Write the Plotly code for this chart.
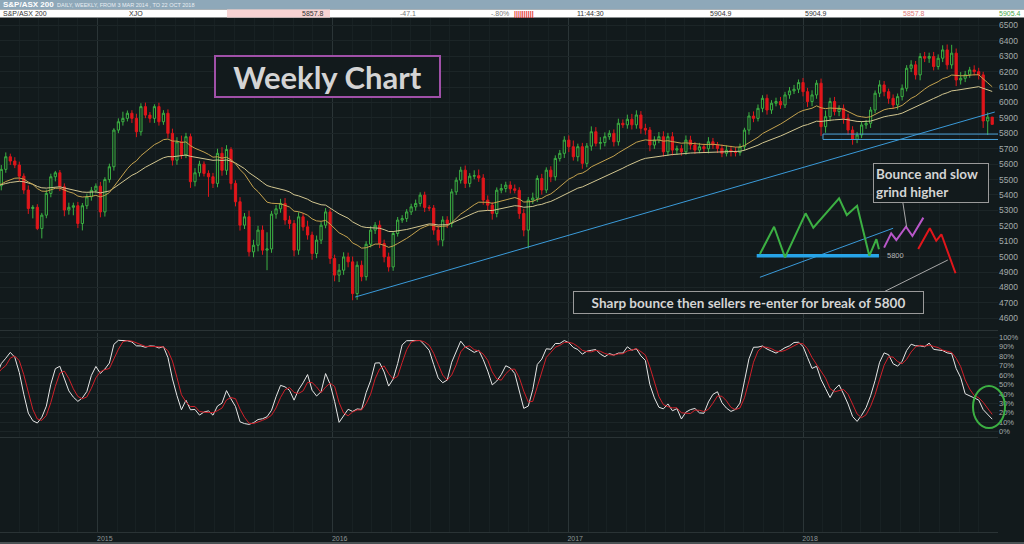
import numpy as np
import pandas as pd
import plotly.graph_objects as go
from plotly.subplots import make_subplots

W, H = 1024, 544
M_L, M_R, M_T, M_B = 0, 26, 18, 12
BG = "#121a1c"

# === weekly S&P/ASX 200 closes (from w/c 28 Jul 2014) ===
closes = [
    5460, 5566, 5648, 5620, 5594, 5522, 5432, 5312, 5320, 5182,
    5269, 5410, 5518, 5544, 5453, 5302, 5320, 5330, 5215, 5330,
    5388, 5430, 5457, 5290, 5500, 5583, 5821, 5875, 5897, 5930,
    5897, 5810, 5973, 5918, 5897, 5973, 5875, 5930, 5800, 5626,
    5745, 5659, 5778, 5486, 5544, 5600, 5540, 5518, 5475, 5670,
    5560, 5695, 5475, 5356, 5204, 5258, 5031, 5074, 5172, 5042,
    5050, 5276, 5310, 5345, 5237, 5215, 5042, 5258, 5193, 5140,
    5020, 5107, 5204, 5290, 4988, 4880, 4912, 4998, 4966, 4760,
    4944, 4870, 5080, 5172, 5204, 5085, 4998, 4933, 5150, 5237,
    5247, 5290, 5323, 5345, 5399, 5319, 5315, 5172, 5107, 5237,
    5215, 5420, 5496, 5561, 5475, 5522, 5525, 5510, 5367, 5334,
    5280, 5431, 5442, 5464, 5440, 5430, 5280, 5172, 5367, 5380,
    5507, 5432, 5561, 5518, 5637, 5670, 5756, 5713, 5648, 5713,
    5605, 5717, 5810, 5735, 5740, 5778, 5800, 5745, 5865, 5855,
    5891, 5855, 5919, 5832, 5821, 5724, 5756, 5778, 5680, 5778,
    5691, 5700, 5680, 5756, 5724, 5691, 5713, 5700, 5745, 5724,
    5702, 5670, 5691, 5680, 5675, 5713, 5821, 5912, 5897, 5962,
    6027, 5951, 5995, 6006, 5984, 6049, 6075, 6086, 6129, 6070,
    6006, 6049, 6125, 5843, 5908, 6006, 5941, 5962, 5897, 5821,
    5761, 5789, 5854, 5865, 5951, 6060, 6114, 6070, 6027, 5984,
    6038, 6092, 6222, 6244, 6179, 6298, 6287, 6298, 6233, 6287,
    6341, 6244, 6320, 6146, 6157, 6180, 6211, 6200, 6179, 5880,
    5905, 5858,
]
first_open = 5440

# upper / lower shadow lengths (points), estimated from the candles
wick_up = [
    30, 28, 28, 20, 25, 22, 18, 30, 14, 20, 15, 25, 20, 12, 18, 22, 30, 20, 25, 18,
    20, 22, 18, 28, 15, 20, 12, 22, 43, 18, 20, 30, 22, 26, 20, 15, 25, 20, 25, 30,
    30, 40, 25, 20, 30, 22, 18, 20, 25, 30, 40, 28, 15, 20, 30, 25, 40, 35, 28, 30,
    108, 20, 25, 30, 35, 28, 22, 30, 25, 40, 22, 30, 20, 25, 18, 25, 40, 30, 28, 35,
    25, 30, 20, 25, 20, 30, 25, 28, 15, 20, 22, 18, 20, 25, 18, 22, 15, 20, 30, 25,
    25, 20, 18, 22, 30, 20, 35, 40, 25, 30, 20, 18, 30, 22, 25, 28, 20, 30, 20, 35,
    20, 30, 18, 25, 20, 22, 25, 30, 40, 20, 25, 20, 35, 30, 35, 28, 20, 25, 30, 25,
    30, 35, 30, 25, 30, 20, 25, 30, 35, 25, 30, 20, 25, 30, 28, 20, 25, 20, 30, 25,
    20, 25, 30, 28, 30, 20, 15, 25, 30, 25, 20, 25, 20, 25, 30, 20, 25, 28, 20, 30,
    25, 30, 20, 30, 40, 25, 30, 20, 25, 30, 25, 20, 25, 22, 20, 18, 30, 25, 20, 25,
    20, 25, 20, 30, 25, 22, 30, 25, 30, 25, 30, 35, 54, 30, 40, 25, 20, 30, 25, 20,
    30, 0,
]
wick_dn = [
    25, 30, 22, 25, 20, 30, 25, 35, 64, 10, 64, 20, 25, 30, 28, 40, 30, 52, 30, 45,
    22, 25, 20, 35, 30, 20, 25, 20, 25, 20, 30, 35, 25, 20, 28, 30, 25, 20, 30, 35,
    30, 25, 20, 40, 30, 25, 20, 130, 30, 25, 35, 30, 40, 30, 35, 25, 30, 35, 40, 30,
    130, 25, 30, 25, 30, 35, 40, 30, 25, 30, 40, 30, 25, 20, 35, 40, 45, 30, 35, 43,
    40, 30, 25, 20, 25, 30, 35, 30, 25, 20, 18, 22, 20, 25, 20, 30, 20, 30, 35, 40,
    30, 25, 20, 22, 30, 25, 20, 25, 30, 35, 40, 25, 20, 25, 30, 20, 35, 40, 119, 25,
    25, 30, 20, 35, 25, 20, 30, 35, 25, 30, 35, 25, 30, 20, 40, 25, 20, 30, 25, 20,
    25, 30, 25, 35, 30, 40, 25, 20, 30, 25, 35, 30, 25, 20, 30, 25, 20, 25, 30, 25,
    30, 25, 20, 30, 25, 20, 25, 30, 25, 20, 25, 30, 25, 20, 25, 20, 25, 20, 25, 30,
    35, 30, 25, 60, 40, 30, 25, 30, 35, 30, 35, 25, 20, 25, 30, 20, 25, 30, 35, 25,
    30, 25, 20, 25, 30, 35, 25, 30, 25, 20, 25, 30, 25, 40, 30, 25, 20, 25, 30, 45,
    91, 0,
]

# === hand-drawn study lines (date, price) ===
trend_x = ["2016-02-05", "2018-10-26"]
trend_y = [4738, 5938]
support_lo, support_hi = 5760, 5795
support_start = "2018-02-01"

base_x = ["2017-10-21", "2018-04-29"]
base_y = [5005, 5005]
green_x = ["2017-10-26", "2017-11-17", "2017-12-04", "2018-01-05", "2018-01-17", "2018-02-26",
           "2018-03-10", "2018-03-26", "2018-04-14", "2018-04-25", "2018-04-29"]
green_y = [5017, 5194, 4995, 5281, 5188, 5378, 5270, 5330, 5005, 5113, 5048]
channel_x = ["2017-10-26", "2018-05-21"]
channel_y = [4866, 5184]
purple_x = ["2018-05-07", "2018-05-18", "2018-05-26", "2018-06-10", "2018-06-20", "2018-07-07"]
purple_y = [5058, 5151, 5108, 5194, 5134, 5253]
red_x = ["2018-06-29", "2018-07-17", "2018-07-27", "2018-08-04", "2018-08-26"]
red_y = [5050, 5184, 5103, 5145, 4892]
ptr_bounce_x = ["2018-06-05", "2018-06-11"]
ptr_bounce_y = [5354, 5192]
ptr_sharp_x = ["2018-05-03", "2018-08-14"]
ptr_sharp_y = [4764, 4978]

# === build OHLC + indicators ===
dates = pd.date_range("2014-07-28", periods=len(closes), freq="7D")
df = pd.DataFrame({"close": closes, "up": wick_up, "dn": wick_dn}, index=dates, dtype=float)
df["open"] = df["close"].shift(1).fillna(first_open)
df["high"] = df[["open", "close"]].max(axis=1) + df["up"]
df["low"] = df[["open", "close"]].min(axis=1) - df["dn"]

ma_fast = df["close"].ewm(span=20, adjust=False).mean()
ma_slow = df["close"].ewm(span=40, adjust=False).mean()

hh = df["high"].rolling(14, min_periods=1).max()
ll = df["low"].rolling(14, min_periods=1).min()
raw_k = (df["close"] - ll) / (hh - ll) * 100
stoch_k = raw_k.rolling(3, min_periods=1).mean()
stoch_d = stoch_k.rolling(3, min_periods=1).mean()


def px(x):
    return (x - M_L) / (W - M_L - M_R)


def py(y):
    return (H - M_B - y) / (H - M_T - M_B)


fig = make_subplots(rows=3, cols=1, shared_xaxes=True, vertical_spacing=0)

fig.add_trace(go.Candlestick(
    x=df.index, open=df["open"], high=df["high"], low=df["low"], close=df["close"],
    increasing=dict(line=dict(color="#3cb043", width=1), fillcolor=BG),
    decreasing=dict(line=dict(color="#e0161b", width=1), fillcolor="#e0161b"),
    showlegend=False), row=1, col=1)

fig.add_trace(go.Scatter(x=df.index, y=ma_slow, mode="lines",
                         line=dict(color="#d2c690", width=1), showlegend=False), row=1, col=1)
fig.add_trace(go.Scatter(x=df.index, y=ma_fast, mode="lines",
                         line=dict(color="#c4a24e", width=1), showlegend=False), row=1, col=1)

def sketch(xs, ys, color, width):
    fig.add_trace(go.Scatter(x=xs, y=ys, mode="lines", line=dict(color=color, width=width),
                             hoverinfo="skip", showlegend=False), row=1, col=1)

sketch(trend_x, trend_y, "#3a9ad9", 1)
sketch(channel_x, channel_y, "#3a9ad9", 1)
sketch(base_x, base_y, "#27a4e8", 3.5)
sketch(green_x, green_y, "#3cb043", 2)
sketch(purple_x, purple_y, "#b957c9", 2)
sketch(red_x, red_y, "#e0161b", 2)
sketch(ptr_bounce_x, ptr_bounce_y, "#a8a8a8", 1)
sketch(ptr_sharp_x, ptr_sharp_y, "#a8a8a8", 1)

fig.add_shape(type="rect", xref="x", yref="y", x0=support_start, x1="2018-11-05",
              y0=support_lo, y1=support_hi, line=dict(color="#4aa0d8", width=1))

fig.add_trace(go.Scatter(x=df.index, y=stoch_k, mode="lines",
                         line=dict(color="#e6e6e6", width=1), showlegend=False), row=2, col=1)
fig.add_trace(go.Scatter(x=df.index, y=stoch_d, mode="lines",
                         line=dict(color="#d0202a", width=1), showlegend=False), row=2, col=1)

fig.add_trace(go.Scatter(x=[df.index[0]], y=[0], mode="markers", marker=dict(opacity=0),
                         hoverinfo="skip", showlegend=False), row=3, col=1)

# === axes ===
axis_font = dict(family="Liberation Sans", size=8.5, color="#a3aaaa")
fig.update_xaxes(type="date", range=["2014-08-02", "2018-10-31"],
                 dtick="M12", tick0="2015-01-01", tickformat="%Y",
                 showgrid=True, gridcolor="#2b3537", gridwidth=1,
                 minor=dict(dtick="M1", showgrid=True, gridcolor="#182123"),
                 showline=True, linecolor="#2a3335", linewidth=1,
                 zeroline=False, ticks="", rangeslider_visible=False,
                 showticklabels=False)
fig.update_xaxes(showticklabels=True, tickfont=dict(family="Liberation Sans", size=7, color="#8d9595"),
                 ticklabelshift=7, row=3, col=1)

fig.update_yaxes(side="right", ticks="", zeroline=False, showline=False, tickfont=axis_font)
fig.update_yaxes(range=[4524, 6548], dtick=100, tick0=0, gridcolor="#1c2527", row=1, col=1)
fig.update_yaxes(range=[-5.6, 104.6], tickvals=list(range(0, 101, 10)),
                 ticktext=[f"{v}%" for v in range(0, 101, 10)],
                 gridcolor="#1c2527", tickfont=dict(family="Liberation Sans", size=7.5, color="#a3aaaa"),
                 row=2, col=1)
fig.update_yaxes(range=[0, 1], showgrid=False, showticklabels=False, row=3, col=1)

fig.update_layout(
    width=W, height=H, margin=dict(l=M_L, r=M_R, t=M_T, b=M_B),
    paper_bgcolor=BG, plot_bgcolor=BG, showlegend=False,
    yaxis=dict(domain=[py(330), 1.0]),
    yaxis2=dict(domain=[py(437), py(333)]),
    yaxis3=dict(domain=[0, py(440)]),
    hovermode=False,
)

# === header strip ===
fig.add_shape(type="rect", xref="paper", yref="paper", x0=px(0), x1=px(W), y0=py(9.5), y1=py(0),
              fillcolor="#8ea8b9", line=dict(width=0), layer="above")
fig.add_shape(type="rect", xref="paper", yref="paper", x0=px(0), x1=px(W), y0=py(17.5), y1=py(9.5),
              fillcolor="#ffffff", line=dict(width=0), layer="above")
fig.add_shape(type="rect", xref="paper", yref="paper", x0=px(227), x1=px(330), y0=py(17.5), y1=py(9.5),
              fillcolor="#f7d3d3", line=dict(width=0), layer="above")

def head_text(x, y, text, color="#333333", size=7, anchor="left", bold=False):
    fig.add_annotation(xref="paper", yref="paper", x=px(x), y=py(y), text=f"<b>{text}</b>" if bold else text,
                       showarrow=False, xanchor=anchor, yanchor="middle",
                       font=dict(family="Liberation Sans", size=size, color=color))

head_text(1, 4.8, "S&P/ASX 200", color="#ffffff", size=8, bold=True)
head_text(55, 5.0, "DAILY, WEEKLY, FROM 3 MAR 2014 , TO 22 OCT 2018", color="#e8eef2", size=5.5)
head_text(1, 13.6, "S&P/ASX 200")
head_text(127, 13.6, "XJO")
head_text(326, 13.6, "5857.8", anchor="right")
head_text(418, 13.6, "-47.1", anchor="right", color="#777777")
head_text(511, 13.6, "-.80%", anchor="right", color="#777777")
head_text(512, 13.6, "||||||||||", color="#e03030", size=7, bold=True)
head_text(575, 13.6, "11:44:30")
head_text(734, 13.6, "5904.9", anchor="right")
head_text(829, 13.6, "5904.9", anchor="right")
head_text(927, 13.6, "5857.8", anchor="right", color="#e07b7b")
head_text(1023, 13.6, "5905.4", anchor="right", color="#4aa84a")

# === text boxes ===
def text_box(cx, cy, text, w, h, size, border, bw, pad, align="center"):
    fig.add_annotation(xref="paper", yref="paper", x=px(cx), y=py(cy), text=text, showarrow=False,
                       xanchor="center", yanchor="middle", width=w, height=h, align=align,
                       bordercolor=border, borderwidth=bw, borderpad=pad, bgcolor=BG,
                       font=dict(family="Lato", size=size, color="#d4d4d4"))

text_box(327.5, 76.5, "<b>Weekly Chart</b>", 219, 35, 31, "#a050a8", 2, 2)
text_box(930.5, 182.5, "<b>Bounce and slow<br>grind higher</b>", 110, 34, 13.5, "#9a9a9a", 1, 2, align="left")
text_box(748, 302, "<b>Sharp bounce then sellers re-enter for break of 5800</b>", 345, 17, 13.5, "#9a9a9a", 1, 2)
fig.add_annotation(xref="paper", yref="paper", x=px(885), y=py(255.5), text="5800", showarrow=False,
                   xanchor="left", yanchor="middle", font=dict(family="Liberation Sans", size=7.5, color="#b8b8b8"))

# circle on the stochastic
fig.add_shape(type="circle", xref="paper", yref="paper", x0=px(973), x1=px(1005), y0=py(428), y1=py(386),
              line=dict(color="#3cb043", width=2))
# bottom window edge
fig.add_shape(type="line", xref="paper", yref="paper", x0=px(0), x1=px(W), y0=py(543), y1=py(543),
              line=dict(color="#5c6466", width=1.5))

# drop the browser's default page margin so the 1024x544 figure fills the window
fig.write_html("out.html", config={"displayModeBar": False},
               post_script="document.body.style.margin='0';document.body.style.background='" + BG + "';")
